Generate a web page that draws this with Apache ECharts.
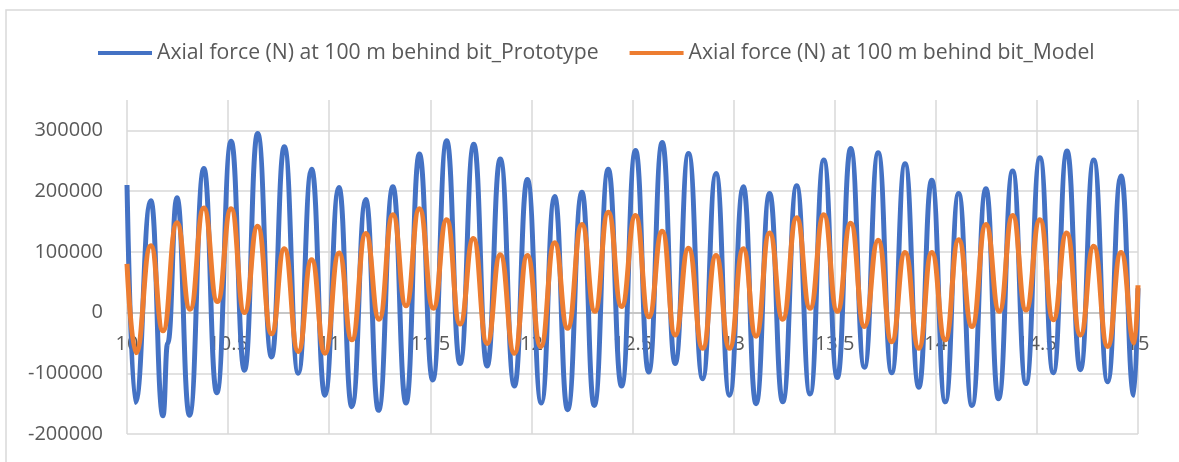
<!DOCTYPE html>
<html>
<head>
<meta charset="utf-8">
<script src="https://cdn.jsdelivr.net/npm/echarts@6/dist/echarts.min.js"></script>
<style>
html,body{margin:0;padding:0;background:#ffffff;}
#c{width:1179px;height:462px;}
</style>
</head>
<body>
<div id="c"></div>
<script>
const seriesNames = [
  'Axial force (N) at 100 m behind bit_Prototype',
  'Axial force (N) at 100 m behind bit_Model'
];

// Prototype: time (s) of turning points
const protoT = [10.000, 10.041, 10.118, 10.178, 10.201, 10.247, 10.309, 10.380, 10.444, 10.515,
  10.581, 10.646, 10.715, 10.778, 10.847, 10.913, 10.979, 11.048, 11.112, 11.181,
  11.244, 11.315, 11.380, 11.446, 11.512, 11.581, 11.647, 11.715, 11.781, 11.846,
  11.916, 11.980, 12.049, 12.115, 12.179, 12.250, 12.311, 12.380, 12.446, 12.515,
  12.580, 12.647, 12.711, 12.777, 12.847, 12.913, 12.980, 13.048, 13.111, 13.178,
  13.243, 13.312, 13.378, 13.446, 13.513, 13.579, 13.647, 13.715, 13.782, 13.848,
  13.916, 13.980, 14.047, 14.113, 14.179, 14.248, 14.310, 14.380, 14.446, 14.515,
  14.581, 14.649, 14.715, 14.781, 14.850, 14.916, 14.980, 15.000];
const protoV = [210000, -148000, 184000, -170000, -51000, 189000, -169000, 237000, -132000, 282000,
  -95000, 295000, -73000, 273000, -100000, 236000, -136000, 206000, -155000, 186000,
  -161000, 207000, -149000, 261000, -111000, 283000, -84000, 277000, -88000, 253000,
  -121000, 219000, -149000, 191000, -160000, 198000, -153000, 236000, -121000, 267000,
  -98000, 280000, -84000, 262000, -109000, 229000, -136000, 207000, -150000, 196000,
  -147000, 209000, -134000, 251000, -107000, 270000, -90000, 263000, -99000, 245000,
  -123000, 218000, -147000, 196000, -153000, 204000, -142000, 233000, -117000, 255000,
  -99000, 266000, -94000, 251000, -114000, 225000, -136000, 40000];

// Model: time (s) of turning points
const modelT = [10.000, 10.044, 10.118, 10.178, 10.247, 10.312, 10.380, 10.447, 10.515, 10.581,
  10.646, 10.715, 10.778, 10.847, 10.913, 10.979, 11.049, 11.112, 11.181, 11.247,
  11.315, 11.380, 11.446, 11.515, 11.581, 11.647, 11.713, 11.781, 11.846, 11.916,
  11.980, 12.046, 12.115, 12.179, 12.250, 12.314, 12.380, 12.446, 12.515, 12.581,
  12.647, 12.711, 12.777, 12.847, 12.913, 12.980, 13.048, 13.111, 13.178, 13.243,
  13.312, 13.378, 13.446, 13.513, 13.579, 13.647, 13.715, 13.782, 13.848, 13.916,
  13.980, 14.047, 14.113, 14.179, 14.248, 14.314, 14.380, 14.446, 14.515, 14.581,
  14.647, 14.715, 14.781, 14.850, 14.916, 14.983, 15.000];
const modelV = [80000, -66000, 110000, -30000, 148000, 5500, 172000, 18000, 171000, 0,
  142000, -35000, 105000, -64000, 87000, -67000, 98000, -45000, 130000, -11000,
  161000, 11000, 171000, 7000, 153000, -19000, 122000, -51000, 95000, -67000,
  94000, -56000, 115000, -26000, 145000, 2000, 165000, 10000, 160000, -7000,
  134000, -37000, 106000, -59000, 94000, -59000, 105000, -39000, 131000, -11000,
  156000, 7000, 161000, 2000, 147000, -23000, 119000, -48000, 99000, -59000,
  99000, -45000, 120000, -23000, 145000, 2000, 160000, 4000, 153000, -12000,
  131000, -37000, 109000, -56000, 99000, -50000, 45000];

const yMin = -200000, yMax = 350000, yStep = 100000;
const xMin = 10, xMax = 15, xStep = 0.5;

const colors = ['#4472C4', '#ED7D31'];
const FONT = '"Open Sans", "Liberation Sans", sans-serif';

const pairs = (t, v) => t.map((x, i) => [x, v[i]]);

const chart = echarts.init(document.getElementById('c'), null, {renderer: 'canvas'});
chart.setOption({
  animation: false,
  backgroundColor: '#ffffff',
  color: colors,
  graphic: [{
    type: 'rect',
    z: -10,
    silent: true,
    shape: {x: 6, y: 10, width: 1300, height: 700},
    style: {fill: 'none', stroke: '#d9d9d9', lineWidth: 1.5}
  }],
  legend: {
    left: 93,
    top: 36,
    icon: 'rect',
    itemWidth: 54,
    itemHeight: 4,
    itemGap: 31,
    textStyle: {fontFamily: FONT, fontSize: 21.2, color: '#595959', lineHeight: 24},
    data: seriesNames
  },
  grid: {left: 127, right: 41, top: 100, bottom: 28, containLabel: false, outerBoundsMode: 'none'},
  xAxis: {
    type: 'value',
    position: 'bottom',
    min: xMin,
    max: xMax,
    interval: xStep,
    offset: 0,
    axisLine: {show: true, onZero: false, lineStyle: {color: '#bfbfbf', width: 1.5}},
    axisTick: {show: false},
    axisLabel: {fontFamily: FONT, fontSize: 20, color: '#595959', margin: 22},
    splitLine: {show: true, lineStyle: {color: '#d9d9d9', width: 1.5}},
    z: 1
  },
  yAxis: {
    type: 'value',
    min: yMin,
    max: yMax,
    interval: yStep,
    axisLine: {show: false, onZero: false},
    axisTick: {show: false},
    axisLabel: {fontFamily: FONT, fontSize: 20, color: '#595959', margin: 24, showMaxLabel: false,
      formatter: v => String(v)},
    splitLine: {show: true, showMaxLine: false, lineStyle: {color: '#d9d9d9', width: 1.5}}
  },
  series: [
    {
      name: seriesNames[0],
      type: 'line',
      data: pairs(protoT, protoV),
      showSymbol: false,
      symbol: 'none',
      smooth: 0.5,
      smoothMonotone: 'x',
      lineStyle: {width: 5, color: colors[0]},
      z: 2
    },
    {
      name: seriesNames[1],
      type: 'line',
      data: pairs(modelT, modelV),
      showSymbol: false,
      symbol: 'none',
      smooth: 0.5,
      smoothMonotone: 'x',
      lineStyle: {width: 5, color: colors[1]},
      z: 3
    }
  ]
});

// Place the x axis on the zero line, using the y axis scale
const zeroY = chart.convertToPixel({yAxisIndex: 0}, 0);
const bottomY = chart.convertToPixel({yAxisIndex: 0}, yMin);
chart.setOption({xAxis: {offset: zeroY - bottomY}});
</script>
</body>
</html>
